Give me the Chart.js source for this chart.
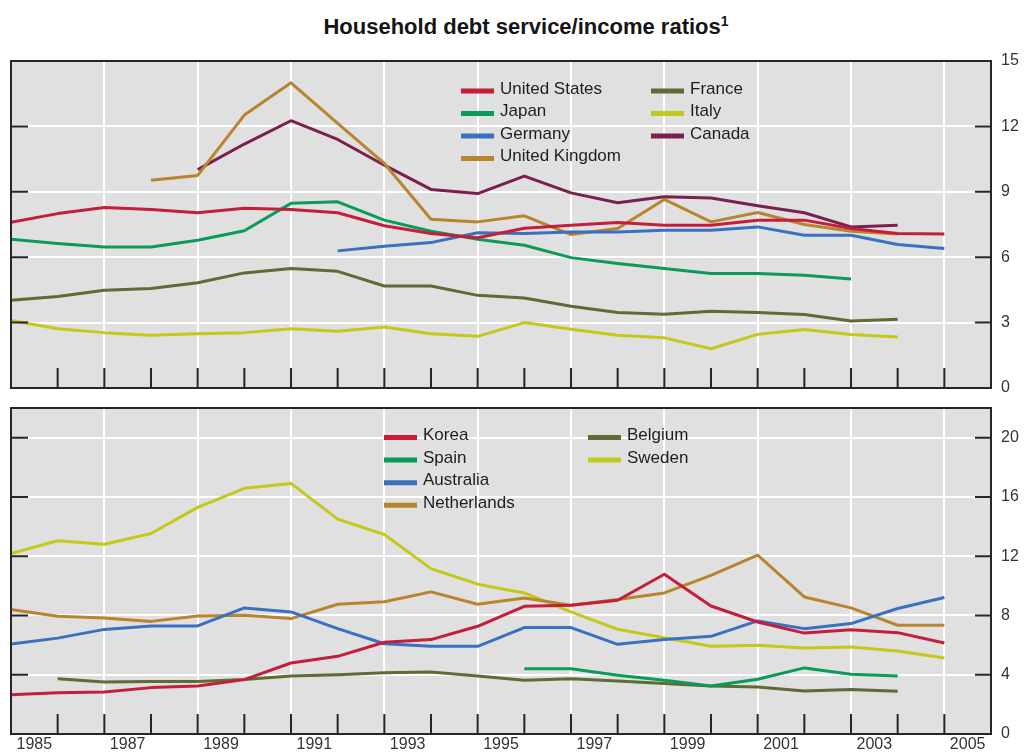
<!DOCTYPE html>
<html>
<head>
<meta charset="utf-8">
<title>Household debt service/income ratios</title>
<script src="https://cdn.jsdelivr.net/npm/chart.js@4.4.1/dist/chart.umd.min.js"></script>
<style>
  body { margin: 0; background: #fff; font-family: "Liberation Sans", Arial, sans-serif; }
  #wrap { position: relative; width: 1034px; height: 756px; overflow: hidden; }
  #title { position: absolute; left: 0; top: 13px; width: 1052px; text-align: center;
           font-weight: bold; font-size: 22px; color: #151515; }
  #title sup { font-size: 14px; }
  canvas { position: absolute; left: 0; }
  #topChart { top: 50px; }
  #bottomChart { top: 395px; }
</style>
</head>
<body>
<div id="wrap">
  <div id="title">Household debt service/income ratios<sup>1</sup></div>
  <canvas id="topChart" width="1034" height="346"></canvas>
  <canvas id="bottomChart" width="1034" height="361"></canvas>
</div>

<script>
// Annual observations, 1985-2005
const years = [1985, 1986, 1987, 1988, 1989, 1990, 1991, 1992, 1993, 1994, 1995,
               1996, 1997, 1998, 1999, 2000, 2001, 2002, 2003, 2004, 2005];
const yearLabels = ["1985", "1987", "1989", "1991", "1993", "1995", "1997", "1999", "2001", "2003", "2005"];
const topTicks = [0, 3, 6, 9, 12, 15];
const bottomTicks = [0, 4, 8, 12, 16, 20];

// Top panel
const unitedStates  = [7.6, 8.0, 8.28, 8.19, 8.04, 8.24, 8.19, 8.04, 7.44, 7.09, 6.89, 7.33, 7.47, 7.59, 7.46, 7.47, 7.7, 7.7, 7.32, 7.09, 7.06];
const japan         = [6.82, 6.63, 6.47, 6.47, 6.78, 7.21, 8.47, 8.54, 7.7, 7.19, 6.82, 6.55, 5.98, 5.71, 5.48, 5.25, 5.25, 5.17, 5.0, null, null];
const germany       = [null, null, null, null, null, null, null, 6.29, 6.5, 6.67, 7.12, 7.09, 7.16, 7.16, 7.24, 7.24, 7.39, 7.01, 7.01, 6.58, 6.4];
const unitedKingdom = [null, null, null, 9.53, 9.75, 12.52, 14.0, 12.14, 10.3, 7.74, 7.62, 7.9, 7.04, 7.32, 8.65, 7.62, 8.05, 7.5, 7.19, 7.06, null];
const france        = [4.02, 4.2, 4.48, 4.56, 4.83, 5.28, 5.48, 5.35, 4.68, 4.68, 4.25, 4.13, 3.75, 3.46, 3.38, 3.52, 3.46, 3.37, 3.07, 3.15, null];
const italy         = [3.1, 2.72, 2.54, 2.42, 2.49, 2.54, 2.72, 2.6, 2.8, 2.49, 2.37, 3.0, 2.69, 2.42, 2.3, 1.8, 2.46, 2.68, 2.45, 2.34, null];
const canada        = [null, null, null, null, 10.02, 11.19, 12.26, 11.4, 10.22, 9.11, 8.92, 9.72, 8.95, 8.5, 8.77, 8.72, 8.36, 8.04, 7.39, 7.47, null];

// Bottom panel
const korea         = [2.65, 2.79, 2.83, 3.13, 3.24, 3.67, 4.79, 5.24, 6.19, 6.37, 7.27, 8.62, 8.69, 9.03, 10.78, 8.64, 7.56, 6.81, 7.04, 6.84, 6.14];
const spain         = [null, null, null, null, null, null, null, null, null, null, null, 4.41, 4.41, 3.96, 3.62, 3.24, 3.69, 4.46, 4.03, 3.92, null];
const australia     = [6.07, 6.47, 7.06, 7.29, 7.29, 8.51, 8.24, 7.11, 6.09, 5.92, 5.92, 7.18, 7.18, 6.05, 6.37, 6.59, 7.63, 7.11, 7.45, 8.47, 9.21];
const netherlands   = [8.41, 7.95, 7.83, 7.6, 7.97, 8.01, 7.79, 8.76, 8.92, 9.59, 8.76, 9.18, 8.69, 9.07, 9.52, 10.71, 12.07, 9.25, 8.51, 7.34, 7.34];
const belgium       = [null, 3.73, 3.51, 3.55, 3.55, 3.67, 3.91, 4.0, 4.14, 4.18, 3.91, 3.62, 3.73, 3.58, 3.4, 3.24, 3.17, 2.9, 3.01, 2.88, null];
const sweden        = [12.17, 13.04, 12.81, 13.53, 15.29, 16.58, 16.91, 14.5, 13.46, 11.16, 10.11, 9.52, 8.24, 7.07, 6.5, 5.92, 5.99, 5.81, 5.87, 5.6, 5.13];

const RED = "#c41e3a", GREEN = "#0a9a5a", BLUE = "#3a70c0", BROWN = "#b8842e",
      OLIVE = "#5f6b35", YELLOW = "#c3c91a", MAROON = "#7a1f4e";

function series(label, values, color) {
    return {
        label: label,
        data: years.map((yr, i) => ({ x: yr, y: values[i] })),
        borderColor: color,
        backgroundColor: color,
        borderWidth: 3,
        pointRadius: 0,
        tension: 0,
        borderJoinStyle: "round",
        fill: false
    };
}

// grey panel, white grid, black frame with inward ticks, two-column legend
const panelFrame = {
    id: "panelFrame",
    beforeDraw(chart) {
        const { ctx, chartArea: a } = chart;
        ctx.save();
        ctx.fillStyle = "#e0e0e0";
        ctx.fillRect(a.left, a.top, a.right - a.left, a.bottom - a.top);
        ctx.restore();
    },
    afterDraw(chart, args, opts) {
        const { ctx, chartArea: a, scales } = chart;
        const x = scales.x, y = scales.y;
        ctx.save();
        ctx.strokeStyle = "#262626";
        ctx.lineWidth = 2;
        ctx.beginPath();
        x.ticks.forEach(t => {
            if (t.value > x.min && t.value < x.max) {
                const px = x.getPixelForValue(t.value);
                ctx.moveTo(px, a.bottom);
                ctx.lineTo(px, a.bottom - 20);
            }
        });
        y.ticks.forEach(t => {
            if (t.value > y.min && t.value < y.max) {
                const py = y.getPixelForValue(t.value);
                ctx.moveTo(a.left, py);
                ctx.lineTo(a.left + 17, py);
                ctx.moveTo(a.right, py);
                ctx.lineTo(a.right - 16, py);
            }
        });
        ctx.stroke();
        ctx.strokeRect(a.left, a.top, a.right - a.left, a.bottom - a.top);

        // legend
        ctx.font = "17px 'Liberation Sans', Arial, sans-serif";
        ctx.textBaseline = "middle";
        ctx.fillStyle = "#1e1e1e";
        chart.data.datasets.forEach((ds, i) => {
            const col = Math.floor(i / opts.perCol), row = i % opts.perCol;
            const sx = opts.cols[col], sy = opts.top + row * opts.gap;
            ctx.strokeStyle = ds.borderColor;
            ctx.lineWidth = 5;
            ctx.beginPath();
            ctx.moveTo(sx, sy);
            ctx.lineTo(sx + 33, sy);
            ctx.stroke();
            ctx.fillText(ds.label, sx + 39, sy - 2);
        });
        ctx.restore();
    }
};

const tickFont = { family: "'Liberation Sans', Arial, sans-serif", size: 16, lineHeight: 1 };
const CLEAR = "rgba(0,0,0,0)";

function makeChart(canvasId, datasets, yMax, yTicks, withLabels, pad, legend) {
    const scales = {
        x: {
            type: "linear", min: 1985, max: 2006,
            ticks: { display: false, stepSize: 1 },
            grid: {
                drawTicks: false, lineWidth: 2,
                color: c => (c.tick.value > 1985 && c.tick.value < 2006 && (c.tick.value - 1985) % 2 === 0) ? "#ffffff" : CLEAR
            },
            border: { display: false },
            afterFit: s => { s.height = withLabels ? 0 : pad.bottom; }
        },
        y: {
            position: "right", min: 0, max: yMax,
            afterBuildTicks: s => { s.ticks = yTicks.map(v => ({ value: v })); },
            ticks: { font: tickFont, color: "#333", padding: 0 },
            grid: {
                drawTicks: true, tickLength: 10, tickColor: CLEAR, lineWidth: 2,
                color: c => (c.tick.value > 0 && c.tick.value < yMax) ? "#ffffff" : CLEAR
            },
            border: { display: false },
            afterFit: s => { s.width = 43; }
        }
    };
    if (withLabels) {
        scales.xl = {
            type: "linear", axis: "x", position: "bottom", min: 1985, max: 2006,
            afterBuildTicks: s => { s.ticks = yearLabels.map(l => ({ value: Number(l) + 0.5 })); },
            ticks: {
                font: tickFont, color: "#333", padding: 3, autoSkip: false, maxRotation: 0,
                callback: v => String(Math.floor(v))
            },
            grid: { display: false, drawTicks: false },
            border: { display: false },
            afterFit: s => { s.height = pad.bottom; }
        };
    }
    return new Chart(document.getElementById(canvasId), {
        type: "line",
        data: { datasets: datasets },
        options: {
            responsive: false,
            animation: false,
            layout: { padding: { left: 11, top: pad.top, right: 0, bottom: 0 } },
            plugins: {
                legend: { display: false },
                tooltip: { enabled: false },
                panelFrame: legend
            },
            scales: scales
        },
        plugins: [panelFrame]
    });
}

makeChart("topChart", [
    series("United States", unitedStates, RED),
    series("Japan", japan, GREEN),
    series("Germany", germany, BLUE),
    series("United Kingdom", unitedKingdom, BROWN),
    series("France", france, OLIVE),
    series("Italy", italy, YELLOW),
    series("Canada", canada, MAROON)
], 15, topTicks, false, { top: 11, bottom: 8 }, { cols: [461, 651], top: 41, gap: 22.5, perCol: 4 });

makeChart("bottomChart", [
    series("Korea", korea, RED),
    series("Spain", spain, GREEN),
    series("Australia", australia, BLUE),
    series("Netherlands", netherlands, BROWN),
    series("Belgium", belgium, OLIVE),
    series("Sweden", sweden, YELLOW)
], 22, bottomTicks, true, { top: 13, bottom: 22 }, { cols: [384, 588], top: 42.5, gap: 22.6, perCol: 4 });
</script>
</body>
</html>
